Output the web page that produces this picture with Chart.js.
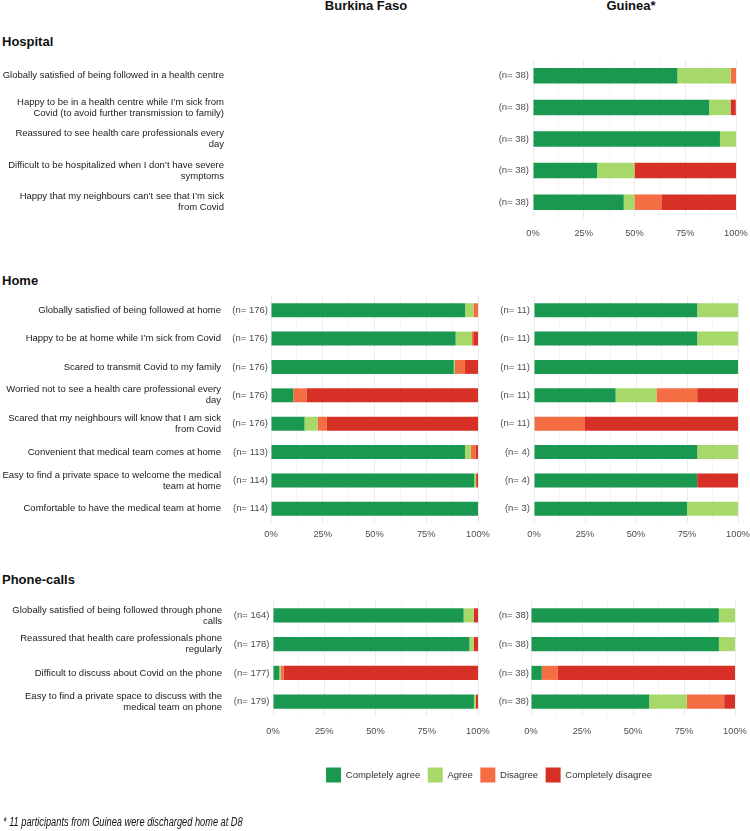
<!DOCTYPE html>
<html><head><meta charset="utf-8">
<script src="https://cdn.jsdelivr.net/npm/chart.js@4"></script>
<style>
html,body{margin:0;padding:0;background:#fff;}
body{width:750px;height:831px;position:relative;overflow:hidden;font-family:"Liberation Sans",Arial,sans-serif;}
canvas{position:absolute;}
.hdr{position:absolute;font-weight:bold;font-size:13px;line-height:13px;color:#111;white-space:nowrap;transform:translateX(-50%);}
.sec{position:absolute;left:2px;font-weight:bold;font-size:13px;line-height:13px;color:#111;white-space:nowrap;}
.note{position:absolute;left:3px;top:816px;font-family:"Liberation Sans",sans-serif;font-style:italic;font-size:12px;line-height:12px;color:#111;white-space:nowrap;transform:scaleX(0.77);transform-origin:0 0;}
</style>
</head><body>
<div class="hdr" style="left:366px;top:-1px;">Burkina Faso</div>
<div class="hdr" style="left:631px;top:-1px;">Guinea*</div>
<div class="sec" style="top:35px;">Hospital</div>
<div class="sec" style="top:274px;">Home</div>
<div class="sec" style="top:573px;">Phone-calls</div>

<canvas id="hospGN" width="750" height="184" style="left:0;top:60px;"></canvas>
<canvas id="homeBF" width="500" height="253" style="left:0;top:296px;"></canvas>
<canvas id="homeGN" width="270" height="253" style="left:480px;top:296px;"></canvas>
<canvas id="phoneBF" width="500" height="141" style="left:0;top:601px;"></canvas>
<canvas id="phoneGN" width="270" height="141" style="left:480px;top:601px;"></canvas>
<canvas id="legend" width="600" height="60" style="left:189px;top:760px;"></canvas>

<div class="note">* 11 participants from Guinea were discharged home at D8</div>

<script>
// ---------- DATA (percent of respondents) ----------
const seriesNames = ['Completely agree', 'Agree', 'Disagree', 'Completely disagree'];

const hospCategories = [
  'Globally satisfied of being followed in a health centre',
  ['Happy to be in a health centre while I\u2019m sick from', 'Covid (to avoid further transmission to family)'],
  ['Reassured to see health care professionals every', 'day'],
  ['Difficult to be hospitalized when I don\u2019t have severe', 'symptoms'],
  ['Happy that my neighbours can\u2019t see that I\u2019m sick', 'from Covid']
];
const hospGuineaN = ['(n= 38)', '(n= 38)', '(n= 38)', '(n= 38)', '(n= 38)'];
const hospGuineaCompletelyAgree    = [71.1, 86.8, 92.1, 31.6, 44.7];
const hospGuineaAgree              = [26.3, 10.5,  7.9, 18.4,  5.3];
const hospGuineaDisagree           = [ 2.6,  0.0,  0.0,  0.0, 13.2];
const hospGuineaCompletelyDisagree = [ 0.0,  2.6,  0.0, 50.0, 36.8];

const homeCategories = [
  'Globally satisfied of being followed at home',
  'Happy to be at home while I\u2019m sick from Covid',
  'Scared to transmit Covid to my family',
  ['Worried not to see a health care professional every', 'day'],
  ['Scared that my neighbours will know that I am sick', 'from Covid'],
  'Convenient that medical team comes at home',
  ['Easy to find a private space to welcome the medical', 'team at home'],
  'Comfortable to have the medical team at home'
];
const homeBurkinaN = ['(n= 176)', '(n= 176)', '(n= 176)', '(n= 176)', '(n= 176)', '(n= 113)', '(n= 114)', '(n= 114)'];
const homeBurkinaCompletelyAgree    = [93.8, 89.2, 88.3, 10.8, 16.2, 93.7, 98.2, 100];
const homeBurkinaAgree              = [ 4.0,  7.9,  0.6,  0.0,  6.3,  2.8,  0.9,   0];
const homeBurkinaDisagree           = [ 2.2,  0.6,  4.8,  6.3,  4.5,  2.5,  0.0,   0];
const homeBurkinaCompletelyDisagree = [ 0.0,  2.3,  6.3, 82.9, 73.0,  1.0,  0.9,   0];

const homeGuineaN = ['(n= 11)', '(n= 11)', '(n= 11)', '(n= 11)', '(n= 11)', '(n= 4)', '(n= 4)', '(n= 3)'];
const homeGuineaCompletelyAgree    = [80, 80, 100, 40,  0, 80, 80, 75];
const homeGuineaAgree              = [20, 20,   0, 20,  0, 20,  0, 25];
const homeGuineaDisagree           = [ 0,  0,   0, 20, 25,  0,  0,  0];
const homeGuineaCompletelyDisagree = [ 0,  0,   0, 20, 75,  0, 20,  0];

const phoneCategories = [
  ['Globally satisfied of being followed through phone', 'calls'],
  ['Reassured that health care professionals phone', 'regularly'],
  'Difficult to discuss about Covid on the phone',
  ['Easy to find a private space to discuss with the', 'medical team on phone']
];
const phoneBurkinaN = ['(n= 164)', '(n= 178)', '(n= 177)', '(n= 179)'];
const phoneBurkinaCompletelyAgree    = [93.0, 95.8,  3.1, 98.0];
const phoneBurkinaAgree              = [ 4.9,  2.2,  0.6,  1.0];
const phoneBurkinaDisagree           = [ 0.0,  0.0,  1.5,  0.0];
const phoneBurkinaCompletelyDisagree = [ 2.1,  2.0, 94.8,  1.0];

const phoneGuineaN = ['(n= 38)', '(n= 38)', '(n= 38)', '(n= 38)'];
const phoneGuineaCompletelyAgree    = [92.1, 92.1,  5.3, 57.9];
const phoneGuineaAgree              = [ 7.9,  7.9,  0.0, 18.4];
const phoneGuineaDisagree           = [ 0.0,  0.0,  7.9, 18.4];
const phoneGuineaCompletelyDisagree = [ 0.0,  0.0, 86.8,  5.3];

const xTickValues = [0, 25, 50, 75, 100];

// ---------- STYLE ----------
const COLORS = ['#1a9850', '#a6d96a', '#f46d43', '#d73027'];
const FONT = '"Liberation Sans", Arial, sans-serif';

function buildDatasets(series) {
  return series.map((d, i) => ({
    label: seriesNames[i], data: d, backgroundColor: COLORS[i],
    borderWidth: 0, barPercentage: 0.49, categoryPercentage: 1
  }));
}

function makePanel(id, nLabels, series, cfg) {
  const plugins = [];
  if (cfg.cats) {
    plugins.push({
      id: 'cats_' + id,
      afterDraw(chart) {
        const ctx = chart.ctx, ys = chart.scales.y;
        ctx.save();
        ctx.font = '9.5px ' + FONT;
        ctx.fillStyle = '#1a1a1a';
        ctx.textAlign = 'right';
        ctx.textBaseline = 'middle';
        cfg.cats.forEach((lab, i) => {
          const lines = Array.isArray(lab) ? lab : [lab];
          const yc = ys.getPixelForValue(i);
          const y0 = yc - (lines.length - 1) * 11 / 2;
          lines.forEach((l, j) => ctx.fillText(l, cfg.catX, y0 + j * 11));
        });
        ctx.restore();
      }
    });
  }
  return new Chart(document.getElementById(id), {
    type: 'bar',
    data: { labels: nLabels, datasets: buildDatasets(series) },
    options: {
      indexAxis: 'y', responsive: false, animation: false, maintainAspectRatio: false,
      layout: { padding: { left: 0, right: cfg.rightPad, top: 0, bottom: 0 } },
      plugins: { legend: { display: false }, tooltip: { enabled: false } },
      scales: {
        x: {
          stacked: true, min: 0, max: 100,
          ticks: {
            stepSize: 12.5, autoSkip: false, maxRotation: 0, padding: cfg.xPad,
            color: '#4d4d4d', font: { family: FONT, size: 9.3 },
            callback: v => xTickValues.includes(v) ? v + '%' : ''
          },
          grid: { drawTicks: false, color: c => (c.tick && xTickValues.includes(c.tick.value)) ? '#ebebeb' : '#f5f5f5' },
          border: { display: false },
          afterFit(s) { s.height = 26; s.paddingLeft = 0; s.paddingRight = 0; }
        },
        y: {
          stacked: true,
          ticks: { padding: cfg.yPad, color: '#4d4d4d', font: { family: FONT, size: 9.5 } },
          grid: { drawTicks: false, offset: false, color: '#f0f0f0' },
          border: { display: false },
          afterFit(s) { s.width = cfg.yWidth; s.paddingTop = 0; s.paddingBottom = 0; }
        }
      }
    },
    plugins
  });
}

// canvas heights include 26px of x-axis below the plot area
makePanel('hospGN', hospGuineaN,
  [hospGuineaCompletelyAgree, hospGuineaAgree, hospGuineaDisagree, hospGuineaCompletelyDisagree],
  { cats: hospCategories, catX: 224, yWidth: 533, rightPad: 14, yPad: 4, xPad: 10 });

makePanel('homeBF', homeBurkinaN,
  [homeBurkinaCompletelyAgree, homeBurkinaAgree, homeBurkinaDisagree, homeBurkinaCompletelyDisagree],
  { cats: homeCategories, catX: 221, yWidth: 271, rightPad: 22, yPad: 3, xPad: 6 });

makePanel('homeGN', homeGuineaN,
  [homeGuineaCompletelyAgree, homeGuineaAgree, homeGuineaDisagree, homeGuineaCompletelyDisagree],
  { yWidth: 54, rightPad: 12, yPad: 4, xPad: 6 });

makePanel('phoneBF', phoneBurkinaN,
  [phoneBurkinaCompletelyAgree, phoneBurkinaAgree, phoneBurkinaDisagree, phoneBurkinaCompletelyDisagree],
  { cats: phoneCategories, catX: 222, yWidth: 273, rightPad: 22, yPad: 3.5, xPad: 10 });

makePanel('phoneGN', phoneGuineaN,
  [phoneGuineaCompletelyAgree, phoneGuineaAgree, phoneGuineaDisagree, phoneGuineaCompletelyDisagree],
  { yWidth: 51, rightPad: 15, yPad: 2, xPad: 10 });

// Legend-only chart
new Chart(document.getElementById('legend'), {
  type: 'bar',
  data: { labels: [], datasets: buildDatasets([[], [], [], []]) },
  options: {
    responsive: false, animation: false,
    layout: { padding: 0 },
    scales: { x: { display: false }, y: { display: false } },
    plugins: {
      tooltip: { enabled: false },
      legend: {
        display: true, position: 'top',
        labels: { boxWidth: 15, boxHeight: 15, padding: 7.5, color: '#333', font: { family: FONT, size: 9.5 } }
      }
    }
  }
});
</script>
</body></html>
